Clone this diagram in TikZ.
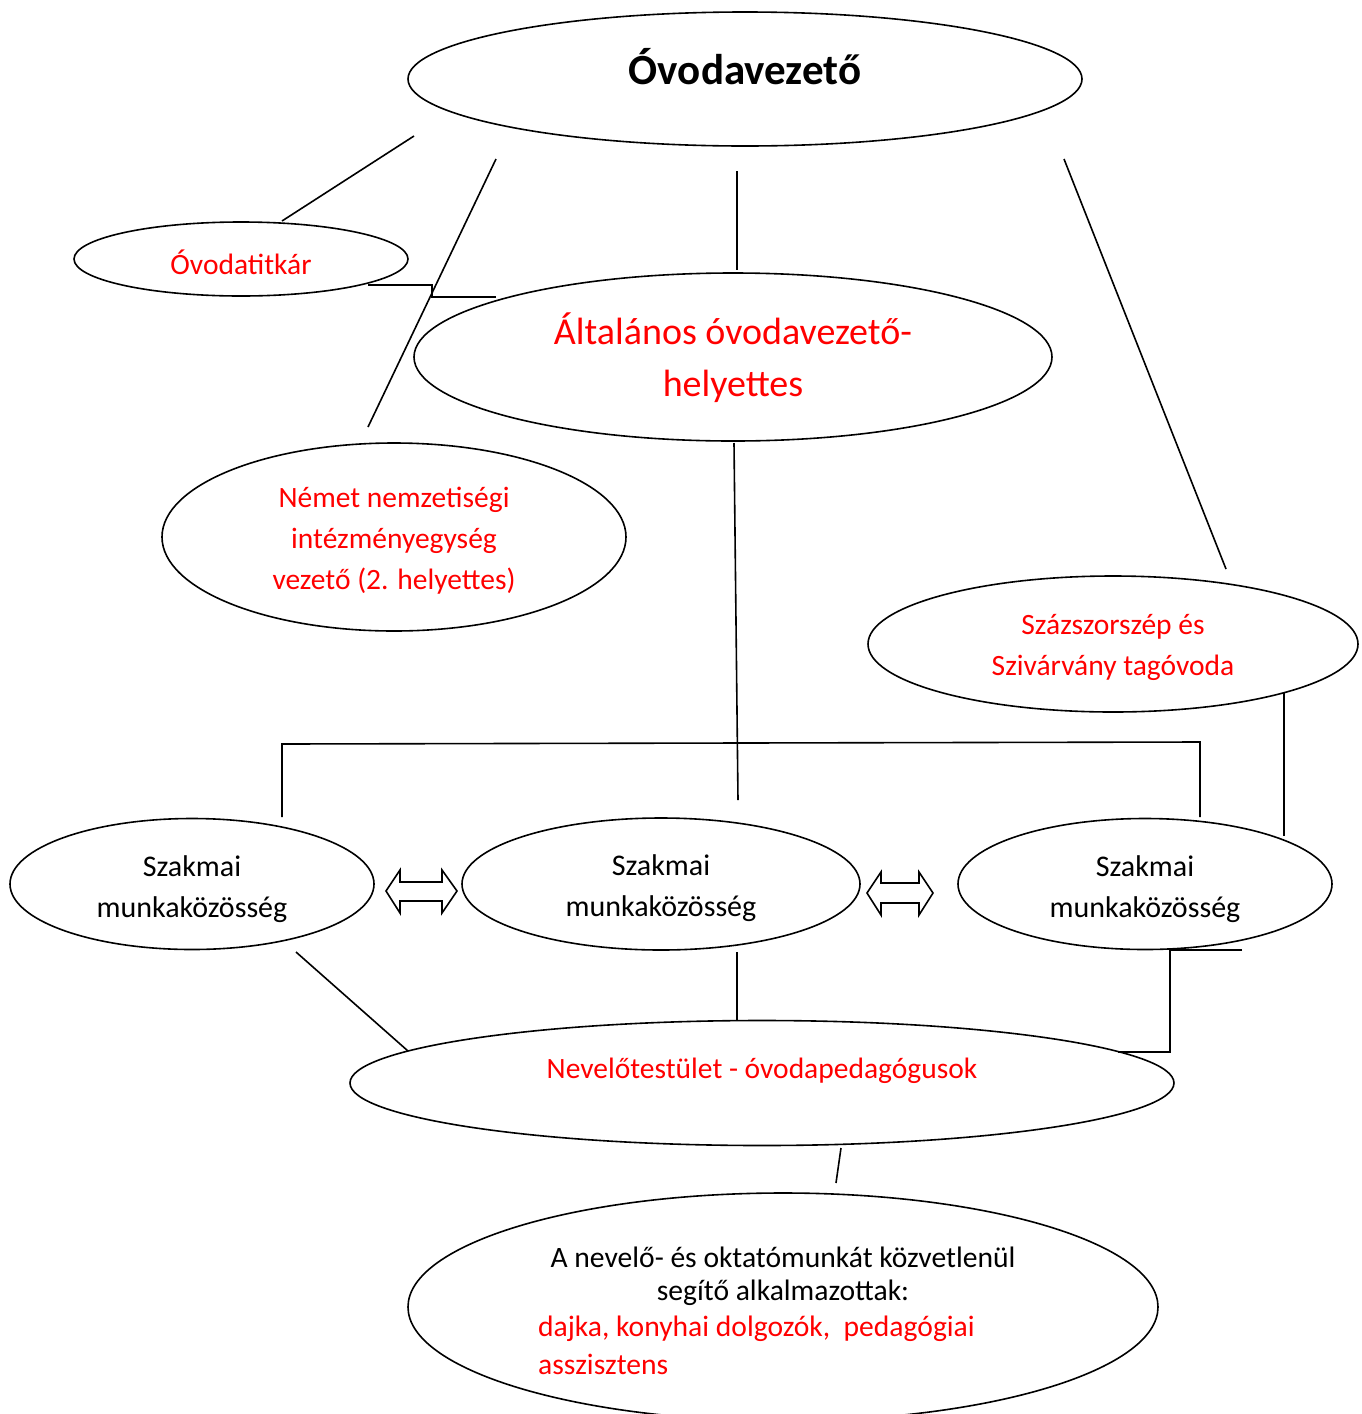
\documentclass[tikz,border=0pt]{standalone}
\usepackage{fontspec}
\setmainfont{Carlito}
\usetikzlibrary{shapes.geometric}
\definecolor{txtred}{RGB}{255,0,0}
\begin{document}
\begin{tikzpicture}[x=1pt,y=-1pt,
  oval/.style={draw, ellipse, line width=1.6pt, inner sep=0pt},
  conn/.style={line width=1.6pt},
  harrow/.style={draw, line width=1.6pt, fill=white, line join=miter},
  redtxt/.style={text=txtred, font=\fontsize{29.5}{41}\selectfont, align=center, inner sep=0pt},
  blktxt/.style={text=black, font=\fontsize{30}{41}\selectfont, align=center, inner sep=0pt},
  bigred/.style={text=txtred, font=\fontsize{38}{52}\selectfont, align=center, inner sep=0pt},
  bottxt/.style={font=\fontsize{29.6}{36}\selectfont, inner sep=0pt}]
\useasboundingbox (0,0) rectangle (1362,1414);

% ellipses
\node[oval, minimum width=674pt, minimum height=134pt] (vez) at (745,79) {};
\node[oval, minimum width=334pt, minimum height=74pt] (tit) at (241,259) {};
\node[oval, minimum width=638pt, minimum height=168pt] (alt) at (733,357) {};
\node[oval, minimum width=464pt, minimum height=188pt] (nem) at (394,537) {};
\node[oval, minimum width=490pt, minimum height=136pt] (szaz) at (1113,644) {};
\node[oval, minimum width=364pt, minimum height=131pt] (sz1) at (192,884) {};
\node[oval, minimum width=398pt, minimum height=132pt] (sz2) at (661,884) {};
\node[oval, minimum width=374pt, minimum height=131pt] (sz3) at (1145,884) {};
\node[oval, minimum width=824pt, minimum height=125pt] (nev) at (762,1083) {};
\node[oval, minimum width=750pt, minimum height=228pt] (seg) at (783,1307) {};

% texts
\node[inner sep=0pt, font=\fontsize{43}{52}\selectfont\bfseries] (vezT) at (745,67) {Óvodavezető};
\node[redtxt] (titT) at (241,262) {Óvodatitkár};
\node[bigred] (altT) at (733,358) {Általános óvodavezető-\\helyettes};
\node[redtxt] (nemT) at (394,541) {Német nemzetiségi\\intézményegység\\vezető (2. helyettes)};
\node[redtxt] (szazT) at (1113,647) {Százszorszép és\\Szivárvány tagóvoda};
\node[blktxt] (sz1T) at (192,889) {Szakmai\\munkaközösség};
\node[blktxt] (sz2T) at (661,888) {Szakmai\\munkaközösség};
\node[blktxt] (sz3T) at (1145,889) {Szakmai\\munkaközösség};
\node[redtxt] (nevT) at (762,1071) {Nevelőtestület - óvodapedagógusok};
\node[bottxt] (segT1) at (783,1257) {A nevelő- és oktatómunkát közvetlenül};
\node[bottxt] (segT2) at (783,1293) {segítő alkalmazottak:};
\node[bottxt, text=txtred, anchor=west] (segT3) at (538,1329) {dajka, konyhai dolgozók,\ \ pedagógiai};
\node[bottxt, text=txtred, anchor=west] (segT4) at (538,1364) {asszisztens};

% connector end points
\coordinate (a1) at (414,136); \coordinate (a2) at (282,221);
\coordinate (b1) at (496,159); \coordinate (b2) at (368,427);
\coordinate (c1) at (737,171); \coordinate (c2) at (737,270);
\coordinate (d1) at (1064,159); \coordinate (d2) at (1226,569);
\coordinate (e1) at (368,285); \coordinate (e2) at (432,285);
\coordinate (e3) at (432,297); \coordinate (e4) at (496,297);
\coordinate (f1) at (734,443); \coordinate (f2) at (738,800);
\coordinate (g1) at (282,817); \coordinate (g2) at (282,744);
\coordinate (g3) at (1200,742); \coordinate (g4) at (1200,817);
\coordinate (h1) at (1284,693); \coordinate (h2) at (1284,836);
\coordinate (i1) at (296,952); \coordinate (i2) at (408,1051);
\coordinate (j1) at (737,952); \coordinate (j2) at (737,1020);
\coordinate (k1) at (1242,950); \coordinate (k2) at (1170,950);
\coordinate (k3) at (1170,1052); \coordinate (k4) at (1118,1052);
\coordinate (l1) at (841,1148); \coordinate (l2) at (836,1183);

\draw[conn] (a1) -- (a2);
\draw[conn] (b1) -- (b2);
\draw[conn] (c1) -- (c2);
\draw[conn] (d1) -- (d2);
\draw[conn] (e1) -- (e2) -- (e3) -- (e4);
\draw[conn] (f1) -- (f2);
\draw[conn] (g1) -- (g2) -- (g3) -- (g4);
\draw[conn] (h1) -- (h2);
\draw[conn] (i1) -- (i2);
\draw[conn] (j1) -- (j2);
\draw[conn] (k1) -- (k2) -- (k3) -- (k4);
\draw[conn] (l1) -- (l2);

% double block arrows
\draw[harrow] (386,891) -- (400,870) -- (400,882) -- (442,882) -- (442,870) -- (457,891)
  -- (442,913) -- (442,901) -- (400,901) -- (400,913) -- cycle;
\draw[harrow] (867,893) -- (881,872) -- (881,883) -- (919,883) -- (919,872) -- (933,893)
  -- (919,915) -- (919,903) -- (881,903) -- (881,915) -- cycle;
\end{tikzpicture}
\end{document}
